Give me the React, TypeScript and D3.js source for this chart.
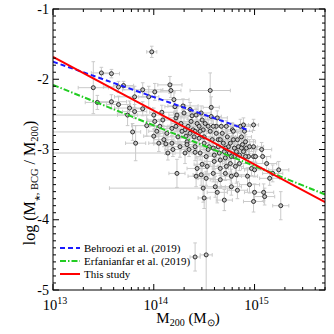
import React from "react";
import * as d3 from "d3";

// log10 M200 [Msun] and log10(M*,BCG / M200) for each cluster
const logMass = [
  13.4, 13.44, 13.48, 13.58, 13.58, 13.65, 13.7, 13.65, 13.74, 13.76,
  13.81, 13.82, 13.81, 13.89, 13.89, 13.93, 13.95, 13.98, 14.0,
  14.01, 14.03, 14.06, 14.05, 14.08, 14.09, 14.1, 14.12, 14.16, 14.17,
  14.18, 14.19, 14.2, 14.21, 14.22, 14.22, 14.23, 14.24, 14.26, 14.27,
  14.29, 14.3, 14.31, 14.32, 14.33, 14.31, 14.33, 14.34, 14.36, 14.37,
  14.38, 14.39, 14.4, 14.41, 14.41, 14.42, 14.43, 14.45, 14.45, 14.46,
  14.43, 14.42, 14.47, 14.48, 14.49, 14.5, 14.5, 14.48, 14.47, 14.5,
  14.52, 14.53, 14.54, 14.56, 14.56, 14.57, 14.57, 14.58, 14.59, 14.6,
  14.6, 14.59, 14.61, 14.62, 14.63, 14.64, 14.64, 14.65, 14.66, 14.63,
  14.66, 14.67, 14.68, 14.69, 14.7, 14.71, 14.72, 14.7, 14.71, 14.72,
  14.73, 14.74, 14.75, 14.76, 14.77, 14.77, 14.78, 14.79, 14.8, 14.8,
  14.81, 14.82, 14.83, 14.83, 14.84, 14.85, 14.85, 14.86, 14.87, 14.88,
  14.89, 14.89, 14.9, 14.91, 14.92, 14.93, 14.94, 14.95, 14.97, 14.99,
  14.99, 15.0, 15.01, 14.99, 15.0, 15.07, 15.08, 15.12, 15.15, 15.18,
  15.09, 15.1, 15.24, 15.26, 14.41, 14.52, 14.99, 14.36, 14.46, 14.51,
  14.55, 14.62, 14.66, 14.71, 14.76, 14.82, 14.87, 14.77, 14.66, 14.54,
  14.28, 14.18, 14.35, 14.52, 14.91, 14.95, 14.79, 14.59, 14.41, 14.23,
  14.13, 14.01,
];
const logRatio = [
  -2.12, -2.33, -1.91, -1.92, -2.32, -2.11, -2.09, -2.36, -2.51, -2.41,
  -2.25, -2.91, -2.46, -2.15, -2.42, -2.66, -2.25, -1.61, -2.81,
  -2.18, -2.74, -2.67, -2.91, -2.47, -2.58, -2.86, -2.92, -2.08, -2.16,
  -2.91, -3.0, -2.29, -2.39, -2.55, -2.67, -3.34, -2.82, -2.96, -2.63,
  -2.38, -2.48, -2.72, -2.81, -2.89, -3.05, -2.93, -2.67, -2.77, -2.6,
  -2.52, -2.72, -2.82, -2.96, -3.04, -2.51, -2.63, -2.67, -2.84, -3.05,
  -3.27, -3.38, -2.48, -2.58, -2.72, -2.82, -2.91, -3.21, -3.36, -3.69,
  -3.1, -3.24, -2.67, -2.74, -2.16, -2.4, -2.53, -2.86, -2.98, -3.08,
  -3.17, -3.34, -3.53, -2.77, -2.55, -2.86, -2.96, -3.05, -3.15, -3.61,
  -3.43, -2.67, -2.77, -2.91, -3.03, -3.12, -3.24, -3.72, -3.34, -2.67,
  -2.82, -2.96, -3.05, -3.2, -3.38, -3.53, -2.72, -2.86, -2.98, -3.1,
  -3.24, -3.36, -3.58, -2.86, -2.96, -3.08, -3.2, -2.67, -2.82, -2.93,
  -3.03, -2.65, -2.74, -2.89, -2.98, -3.38, -3.1, -3.5, -3.27, -2.96,
  -3.1, -3.29, -3.1, -3.74, -3.61, -3.0, -3.1, -3.2, -3.41, -3.34,
  -3.61, -3.67, -3.29, -3.8, -4.53, -4.5, -2.65, -2.43, -2.74, -2.63,
  -2.96, -2.67, -2.86, -2.98, -2.91, -3.03, -2.98, -3.1, -3.27, -3.0,
  -2.74, -2.7, -3.0, -3.41, -3.1, -2.96, -2.74, -2.67, -2.74, -2.51,
  -2.77, -2.6,
];
// symmetric errors (dex)
const massErr = [
  0.15, 0.12, 0.1, 0.08, 0.15, 0.15, 0.1, 0.12, 0.1, 0.15,
  0.2, 0.1, 0.12, 0.2, 0.1, 0.15, 0.1, 0.05, 0.1,
  0.2, 0.08, 0.1, 0.1, 0.12, 0.15, 0.1, 0.12, 0.12, 0.1,
  0.1, 0.08, 0.15, 0.1, 0.12, 0.08, 0.08, 0.1, 0.12, 0.1,
  0.15, 0.1, 0.08, 0.1, 0.12, 0.1, 0.08, 0.1, 0.1, 0.12,
  0.1, 0.08, 0.1, 0.12, 0.1, 0.1, 0.08, 0.1, 0.1, 0.08,
  0.1, 0.08, 0.1, 0.1, 0.12, 0.1, 0.08, 0.08, 0.08, 0.06,
  0.1, 0.1, 0.1, 0.08, 0.2, 0.08, 0.1, 0.1, 0.1, 0.08,
  0.1, 0.08, 0.1, 0.1, 0.1, 0.1, 0.08, 0.1, 0.08, 0.1,
  0.1, 0.12, 0.1, 0.08, 0.1, 0.1, 0.08, 0.08, 0.1, 0.1,
  0.08, 0.1, 0.1, 0.08, 0.1, 0.1, 0.1, 0.08, 0.1, 0.1,
  0.08, 0.1, 0.1, 0.1, 0.08, 0.1, 0.1, 0.1, 0.1, 0.08,
  0.1, 0.1, 0.08, 0.1, 0.1, 0.1, 0.08, 0.1, 0.1, 0.1,
  0.1, 0.1, 0.08, 0.1, 0.1, 0.1, 0.08, 0.1, 0.1, 0.1,
  0.1, 0.1, 0.1, 0.08, 0.05, 0.06, 0.05, 0.08, 0.08, 0.08,
  0.08, 0.08, 0.08, 0.08, 0.08, 0.08, 0.08, 0.08, 0.08, 0.08,
  0.08, 0.08, 0.08, 0.08, 0.08, 0.08, 0.08, 0.08, 0.08, 0.08,
  0.08, 0.08,
];
const ratioErr = [
  0.37, 0.1, 0.08, 0.06, 0.1, 0.08, 0.06, 0.12, 0.15, 0.1,
  0.15, 0.25, 0.1, 0.1, 0.1, 0.15, 0.15, 0.08, 0.1,
  0.12, 0.08, 0.1, 0.12, 0.1, 0.08, 0.1, 0.15, 0.12, 0.1,
  0.1, 0.1, 0.12, 0.1, 0.1, 0.08, 0.2, 0.1, 0.15, 0.1,
  0.1, 0.12, 0.1, 0.1, 0.1, 0.15, 0.08, 0.1, 0.12, 0.1,
  0.08, 0.1, 0.1, 0.1, 0.12, 0.1, 0.1, 0.08, 0.1, 0.1,
  0.15, 0.15, 0.1, 0.1, 0.1, 0.1, 0.1, 0.12, 0.15, 0.15,
  0.1, 0.12, 0.1, 0.08, 0.25, 0.15, 0.1, 0.1, 0.1, 0.1,
  0.12, 0.12, 0.15, 0.1, 0.1, 0.1, 0.1, 0.1, 0.1, 0.15,
  0.12, 0.1, 0.1, 0.1, 0.1, 0.1, 0.12, 0.15, 0.1, 0.08,
  0.1, 0.1, 0.1, 0.12, 0.1, 0.12, 0.1, 0.1, 0.1, 0.1,
  0.1, 0.12, 0.12, 0.1, 0.08, 0.1, 0.1, 0.1, 0.1, 0.1,
  0.1, 0.1, 0.1, 0.1, 0.1, 0.12, 0.1, 0.12, 0.1, 0.1,
  0.1, 0.1, 0.08, 0.15, 0.12, 0.1, 0.1, 0.1, 0.1, 0.12,
  0.12, 0.12, 0.12, 0.2, 0.2, 0.8, 0.08, 0.1, 0.1, 0.1,
  0.1, 0.1, 0.1, 0.1, 0.1, 0.1, 0.1, 0.1, 0.1, 0.1,
  0.1, 0.1, 0.1, 0.1, 0.1, 0.1, 0.1, 0.1, 0.1, 0.1,
  0.1, 0.1,
];

// clusters with long, one-sided mass error bars
const wideMass = [13.79, 14.0, 14.14, 14.49];
const wideRatio = [-2.75, -2.51, -3.05, -3.55];
const wideMassLo = [0.79, 1.0, 1.14, 0.93];
const wideMassHi = [0.08, 0.1, 0.05, 0.26];
const wideRatioErr = [0.12, 0.1, 0.1, 0.2];

// relations (end points in log M200, log ratio)
const relationNames = ["Behroozi et al. (2019)", "Erfanianfar et al. (2019)", "This study"];
const relationMass = [[13, 14.95], [13, 15.7], [13, 15.7]];
const relationRatio = [[-1.75, -2.73], [-2.08, -3.64], [-1.68, -3.75]];
const relationColors = ["#1a1aff", "#22cc22", "#ff0000"];
const relationDash = ["5,3", "6,2,1.5,2", null];

const yTickLabels = ["-5", "-4", "-3", "-2", "-1"];
const xTickExponents = ["13", "14", "15"];

const W = 334;
const H = 334;
const left = 53;
const right = 325;
const top = 9;
const bottom = 290;
const font = "'Liberation Serif', 'Times New Roman', serif";

export default function App() {
  const x = d3.scaleLog().domain([1e13, 5e15]).range([left, right]);
  const y = d3.scaleLinear().domain([-5, -1]).range([bottom, top]);

  const points = logMass.map((m, i) => ({
    m,
    r: logRatio[i],
    lo: massErr[i],
    hi: massErr[i],
    e: ratioErr[i],
  }));
  wideMass.forEach((m, i) =>
    points.push({ m, r: wideRatio[i], lo: wideMassLo[i], hi: wideMassHi[i], e: wideRatioErr[i] })
  );

  const xTicks = x.ticks();
  const yTicks = d3.range(-50, -9).map((v) => v / 10);
  const cap = 1.8;

  const lineGen = d3
    .line<[number, number]>()
    .x((d) => x(10 ** d[0]))
    .y((d) => y(d[1]));

  return (
    <div style={{ position: "absolute", left: 0, top: 0 }}>
      <svg width={W} height={H} style={{ display: "block", background: "#fff" }}>
        <defs>
          <clipPath id="plot">
            <rect x={left} y={top} width={right - left} height={bottom - top} />
          </clipPath>
        </defs>

        <g clipPath="url(#plot)">
          {points.map((p, i) => {
            const cx = x(10 ** p.m);
            const cy = y(p.r);
            const x0 = x(10 ** (p.m - p.lo));
            const x1 = x(10 ** (p.m + p.hi));
            const y0 = y(p.r - p.e);
            const y1 = y(p.r + p.e);
            return (
              <g key={"e" + i} stroke="#cacaca" strokeWidth={1} fill="none">
                <line x1={x0} x2={x1} y1={cy} y2={cy} />
                <line x1={x0} x2={x0} y1={cy - cap} y2={cy + cap} />
                <line x1={x1} x2={x1} y1={cy - cap} y2={cy + cap} />
                <line x1={cx} x2={cx} y1={y0} y2={y1} />
                <line x1={cx - cap} x2={cx + cap} y1={y0} y2={y0} />
                <line x1={cx - cap} x2={cx + cap} y1={y1} y2={y1} />
              </g>
            );
          })}
          {points.map((p, i) => (
            <circle
              key={"c" + i}
              cx={x(10 ** p.m)}
              cy={y(p.r)}
              r={2}
              fill="#c4c4c4"
              stroke="#1e1e1e"
              strokeWidth={0.9}
            />
          ))}
          {relationNames.map((name, i) => (
            <path
              key={name}
              d={lineGen(relationMass[i].map((m, j) => [m, relationRatio[i][j]]) as [number, number][]) || ""}
              stroke={relationColors[i]}
              strokeWidth={2}
              strokeDasharray={relationDash[i] || undefined}
              fill="none"
            />
          ))}
        </g>

        {/* frame */}
        <rect x={left} y={top} width={right - left} height={bottom - top} fill="none" stroke="#000" strokeWidth={1} />

        {/* x ticks, bottom and top */}
        {xTicks.map((t) => {
            const px = x(t);
            const major = Math.abs(Math.log10(t) - Math.round(Math.log10(t))) < 1e-6;
            const len = major ? 6 : 3;
            return (
              <g key={"xt" + t} stroke="#000" strokeWidth={1}>
                <line x1={px} x2={px} y1={bottom} y2={bottom - len} />
                <line x1={px} x2={px} y1={top} y2={top + len} />
              </g>
            );
          })}
        {/* y ticks, left and right */}
        {yTicks.map((t) => {
          const py = y(t);
          const major = Math.abs(t - Math.round(t)) < 1e-6;
          const len = major ? 6 : 3;
          return (
            <g key={"yt" + t} stroke="#000" strokeWidth={1}>
              <line x1={left} x2={left + len} y1={py} y2={py} />
              <line x1={right} x2={right - len} y1={py} y2={py} />
            </g>
          );
        })}

        {/* tick labels */}
        {yTickLabels.map((lab) => (
          <text
            key={"yl" + lab}
            x={left - 4}
            y={y(+lab)}
            dy="0.33em"
            textAnchor="end"
            fontFamily={font}
            fontSize={14}
            fill="#000"
          >
            {lab}
          </text>
        ))}
        {xTickExponents.map((e) => (
          <text key={"xl" + e} x={x(10 ** +e) + 2} y={310} textAnchor="middle" fontFamily={font} fontSize={14.5} fill="#000">
            10
            <tspan fontSize={10} dy={-6}>
              {e}
            </tspan>
          </text>
        ))}

        {/* axis titles */}
        <text x={188} y={323} textAnchor="middle" fontFamily={font} fontSize={15} fill="#000">
          M
          <tspan fontSize={10} dy={3}>200</tspan>
          <tspan dy={-3}> (M</tspan>
          <tspan fontSize={10} dy={3}>⊙</tspan>
          <tspan dy={-3}>)</tspan>
        </text>
        <text
          transform="translate(35, 183) rotate(-90)"
          textAnchor="middle"
          fontFamily={font}
          fontSize={16}
          fill="#000"
        >
          log (M
          <tspan fontSize={10.5} dy={3}>⁎, BCG</tspan>
          <tspan dy={-3}> / M</tspan>
          <tspan fontSize={10.5} dy={3}>200</tspan>
          <tspan dy={-3}>)</tspan>
        </text>

        {/* legend */}
        {relationNames.map((name, i) => {
          const ly = 248 + i * 13;
          return (
            <g key={"lg" + name}>
              <line
                x1={60}
                x2={80}
                y1={ly}
                y2={ly}
                stroke={relationColors[i]}
                strokeWidth={2}
                strokeDasharray={relationDash[i] || undefined}
              />
              <text x={84} y={ly} dy="0.35em" fontFamily={font} fontSize={11} fill="#000">
                {name}
              </text>
            </g>
          );
        })}
      </svg>
    </div>
  );
}
